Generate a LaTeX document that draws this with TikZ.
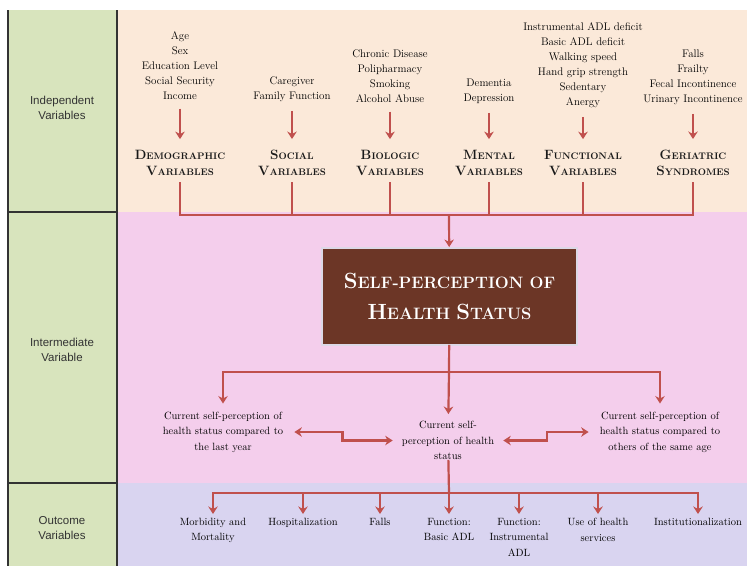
\documentclass[tikz,border=0pt]{standalone}
\usepackage{fontspec}
\newfontfamily\sidefont{Liberation Sans}
\usepackage{tikz}
\usetikzlibrary{arrows.meta,calc,positioning}
\definecolor{peach}{HTML}{FBE9D9}
\definecolor{pinkbg}{HTML}{F4CEEC}
\definecolor{lavender}{HTML}{D9D4F0}
\definecolor{sidegreen}{HTML}{D8E4BD}
\definecolor{arrowred}{HTML}{C0504D}
\definecolor{boxbrown}{HTML}{6C3626}
\definecolor{boxedge}{HTML}{DCD8E6}
\newcommand{\catsc}[2]{{\fontsize{13.5}{16}\selectfont #1}{\fontsize{9.5}{16}\selectfont #2}}
\newcommand{\titlesc}[2]{{\fontsize{22}{31}\selectfont #1}{\fontsize{16.5}{31}\selectfont #2}}

\begin{document}
\begin{tikzpicture}[x=1pt,y=-1pt,
  item/.style={font=\fontsize{11}{15}\selectfont, align=center, inner sep=1pt, text=black},
  midtext/.style={font=\fontsize{10.5}{15.5}\selectfont, align=center, inner sep=1pt, text=black},
  cat/.style={font=\fontsize{13.5}{16}\selectfont\bfseries, align=center, inner sep=1pt, text=black!90},
  side/.style={font=\sidefont\fontsize{11.5}{15}\selectfont, align=center, text=black!80},
  redline/.style={draw=arrowred, line width=2.2pt, line cap=rect},
  redarrow/.style={draw=arrowred, line width=2.2pt, -{Stealth[length=7.5pt,width=9.5pt]}},
  dblarrow/.style={draw=arrowred, line width=2.2pt, {Stealth[length=7.5pt,width=9.5pt]}-{Stealth[length=7.5pt,width=9.5pt]}},
  selfbox/.style={fill=boxbrown, draw=boxedge, line width=2pt, minimum width=255pt, minimum height=97pt,
    text=white, align=center, font=\fontsize{16.5}{31}\selectfont\bfseries}]
\useasboundingbox (0,0) rectangle (747,566);
% bands
\fill[peach] (117,10) rectangle (747,212);
\fill[pinkbg] (117,212) rectangle (747,483);
\fill[lavender] (117,483) rectangle (747,566);
\fill[sidegreen] (8,10) rectangle (117,566);
\draw[line width=1.5pt, black!80] (8,10) -- (8,566) (117,10) -- (117,566) (8,212) -- (117,212) (8,483) -- (117,483);
\node[side] (indep) at (62,108) {Independent\\Variables};
\node[side] (inter) at (62,350) {Intermediate\\Variable};
\node[side] (outc) at (62,528) {Outcome\\Variables};

% independent variables
\node[item, anchor=south] (demoitems) at (180,100.7) {Age\\Sex\\Education Level\\Social Security\\Income};
\node[item, anchor=south] (socitems) at (292,102.8) {Caregiver\\Family Function};
\node[item, anchor=south] (bioitems) at (390,103.7) {Chronic Disease\\Polipharmacy\\Smoking\\Alcohol Abuse};
\node[item, anchor=south] (mentitems) at (489,104.8) {Dementia\\Depression};
\node[item, anchor=south] (funcitems) at (583,108.8) {Instrumental ADL deficit\\Basic ADL deficit\\Walking speed\\Hand grip strength\\Sedentary\\Anergy};
\node[item, anchor=south] (geriitems) at (693,105.8) {Falls\\Frailty\\Fecal Incontinence\\Urinary Incontinence};

\node[cat] (democat) at (180,163) {\catsc{D}{EMOGRAPHIC}\\\catsc{V}{ARIABLES}};
\node[cat] (soccat) at (292,163) {\catsc{S}{OCIAL}\\\catsc{V}{ARIABLES}};
\node[cat] (biocat) at (390,163) {\catsc{B}{IOLOGIC}\\\catsc{V}{ARIABLES}};
\node[cat] (mentcat) at (489,163) {\catsc{M}{ENTAL}\\\catsc{V}{ARIABLES}};
\node[cat] (funccat) at (583,163) {\catsc{F}{UNCTIONAL}\\\catsc{V}{ARIABLES}};
\node[cat] (gericat) at (693,163) {\catsc{G}{ERIATRIC}\\\catsc{S}{YNDROMES}};

\coordinate (topbus) at (449,215);
\foreach \v in {demo,soc,bio,ment,func,geri}{
  \draw[redarrow, shorten <=8pt, shorten >=10pt] (\v items) -- (\v cat);
  \draw[redline, shorten <=6pt] (\v cat) -- (\v cat |- topbus);
}
\draw[redline] (democat |- topbus) -- (gericat |- topbus);

% intermediate variable
\node[selfbox] (selfbox) at (449.5,296.5) {\titlesc{S}{ELF-PERCEPTION} \titlesc{}{OF}\\\titlesc{H}{EALTH} \titlesc{S}{TATUS}};
\draw[redarrow] (topbus) -- (selfbox);

\node[midtext] (lastyear) at (223,432) {Current self-perception of\\health status compared to\\the last year};
\node[midtext] (current) at (448,440.5) {Current self-\\perception of health\\status};
\node[midtext] (others) at (660,432) {Current self-perception of\\health status compared to\\others of the same age};

\coordinate (midbus) at (449,372);
\draw[redline] (selfbox) -- (midbus);
\draw[redline] (lastyear |- midbus) -- (others |- midbus);
\draw[redarrow, shorten >=7pt] (lastyear |- midbus) -- (lastyear);
\draw[redarrow, shorten >=6pt] (midbus) -- (current);
\draw[redarrow, shorten >=7pt] (others |- midbus) -- (others);
\draw[dblarrow, shorten <=10pt, shorten >=8pt] (lastyear.east) -| ($(lastyear.east)!.5!(current.west)$) |- (current.west);
\draw[dblarrow, shorten <=8pt, shorten >=10pt] (current.east) -| ($(current.east)!.5!(others.west)$) |- (others.west);

% outcome variables
\node[midtext, anchor=north] (morb) at (213,517) {Morbidity and\\Mortality};
\node[midtext, anchor=north] (hosp) at (303,517) {Hospitalization};
\node[midtext, anchor=north] (falls) at (380,517) {Falls};
\node[midtext, anchor=north] (basic) at (449,517) {Function:\\Basic ADL};
\node[midtext, anchor=north] (instr) at (519,517) {Function:\\Instrumental\\ADL};
\node[midtext, anchor=north] (use) at (598,517) {Use of health\\services};
\node[midtext, anchor=north] (inst) at (698,517) {Institutionalization};

\coordinate (lowbus) at (449,493);
\draw[redline] (current) -- (lowbus);
\draw[redline] (morb |- lowbus) -- (inst |- lowbus);
\foreach \o in {morb,hosp,falls,basic,instr,use,inst}
  \draw[redarrow, shorten >=3pt] (\o |- lowbus) -- (\o);
\end{tikzpicture}
\end{document}
